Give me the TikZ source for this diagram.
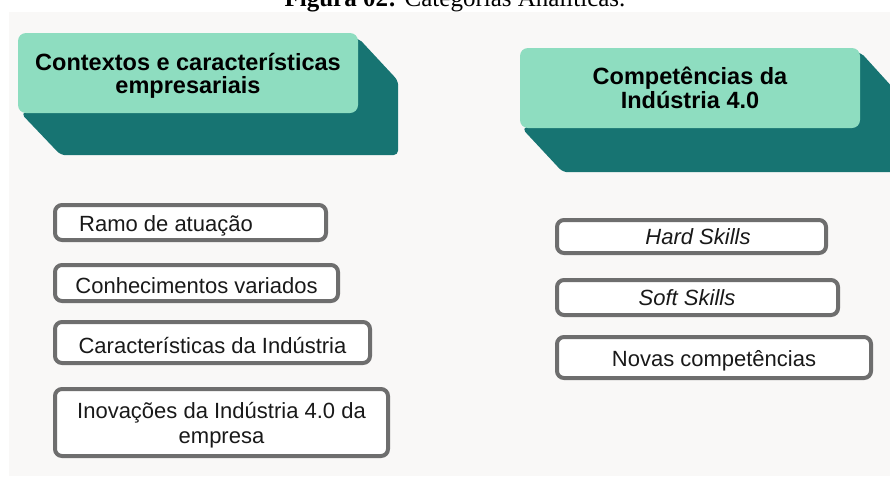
\documentclass[tikz,border=0pt]{standalone}
\usepackage{fontspec}
\setmainfont{Liberation Sans}
\newfontfamily\titlefont{Liberation Serif}
\usetikzlibrary{calc,backgrounds}
\definecolor{panel}{HTML}{F9F8F7}
\definecolor{mint}{HTML}{8EDDC0}
\definecolor{tealdark}{HTML}{177472}
\definecolor{boxgray}{HTML}{6E6E6E}
\newcommand{\lowertxt}[1]{\raisebox{-3pt}[\height][\depth]{#1}}
\begin{document}
\begin{tikzpicture}[x=1pt,y=-1pt,
  header/.style={fill=mint, rounded corners=8pt, minimum width=340pt, minimum height=80pt,
    align=center, font=\fontsize{23.5}{23.5}\selectfont\bfseries, text=black, inner sep=0pt},
  itembox/.style={draw=boxgray, line width=4pt, fill=white, rounded corners=7pt,
    align=center, font=\fontsize{22}{25}\selectfont, text=black!90, inner sep=0pt},
  shadow3d/.style={fill=tealdark, rounded corners=5pt}
]
\clip (0,0) rectangle (890,477);
\node[anchor=base, font=\titlefont\fontsize{25}{25}\selectfont, text=black] (title) at (455,6)
  {\textbf{Figura 02:} Categorias Analíticas.};

% headers
\node[header] (hl) at (188,73) {\lowertxt{Contextos e características}\\\lowertxt{empresariais}};
\node[header] (hr) at (690,88) {Competências da\\Indústria 4.0};

% left items
\node[itembox, minimum width=271pt, minimum height=35pt] (c1) at (190.5,222.5) {\hspace*{-49pt}\lowertxt{Ramo de atuação}};
\node[itembox, minimum width=283pt, minimum height=36pt] (c2) at (196.5,283) {\lowertxt{Conhecimentos variados}};
\node[itembox, minimum width=315pt, minimum height=41pt] (c3) at (212.5,342.5) {\lowertxt{Características da Indústria}};
\node[itembox, minimum width=333pt, minimum height=67pt] (c4) at (221.5,422.5) {\lowertxt{Inovações da Indústria 4.0 da}\\\lowertxt{empresa}};

% right items
\node[itembox, minimum width=269pt, minimum height=33pt] (k1) at (691.5,236.5) {\hspace*{13pt}\textit{Hard Skills}};
\node[itembox, minimum width=281pt, minimum height=35pt] (k2) at (697.5,297.5) {\hspace*{-21pt}\textit{Soft Skills}};
\node[itembox, minimum width=314pt, minimum height=41pt] (k3) at (714,357.5) {\lowertxt{Novas competências}};

\begin{scope}[on background layer]
  \fill[white] (0,0) rectangle (890,477);
  \fill[panel] (9,12) rectangle (890,476);
  \fill[shadow3d] ($(hl.south west)+(3,0)$) -- ++(40,42) -| ($(hl.north east)+(40,48)$)
     -- ($(hl.north east)+(0,5)$) -- cycle;
  \fill[shadow3d] ($(hr.south west)+(2,0)$) -- ++(41,44) -| ($(hr.north east)+(40,48)$)
     -- ($(hr.north east)+(0,4)$) -- cycle;
\end{scope}
\end{tikzpicture}
\end{document}
